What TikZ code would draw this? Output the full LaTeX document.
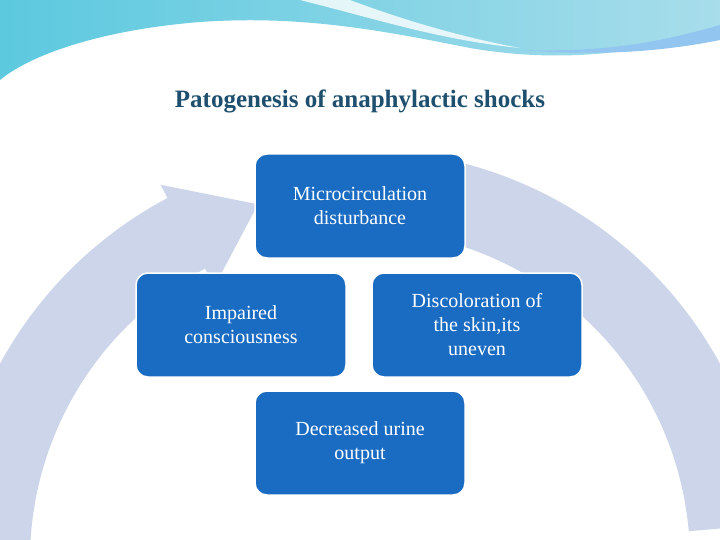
\documentclass[tikz,border=0pt]{standalone}
\usepackage{fontspec}
\setmainfont{Liberation Serif}
\usetikzlibrary{shapes.geometric,calc}
\definecolor{boxblue}{HTML}{1A6CC2}
\definecolor{ring}{HTML}{CDD5EA}
\definecolor{titlec}{HTML}{1E4F6E}
\definecolor{cyanA}{HTML}{5CC9DF}
\definecolor{cyanB}{HTML}{A8DDEB}
\tikzset{
 box/.style={draw=white,line width=1.5pt,fill=boxblue,rounded corners=12pt,minimum width=210pt,minimum height=104pt,text=white,align=center,font=\fontsize{20}{24}\selectfont,inner sep=2pt},
}
\begin{document}
\begin{tikzpicture}[x=1pt,y=-1pt]
\useasboundingbox (0,0) rectangle (720,540);
\fill[white] (0,0) rectangle (720,540);
% top wave
\shade[left color=cyanA,right color=cyanB] (0,0) -- (720,0) -- (720,30) .. controls (620,60) and (540,60) .. (470,48) .. controls (380,30) and (300,15) .. (200,22) .. controls (100,30) and (30,55) .. (0,80) -- cycle;
\fill[white,opacity=0.8] (300,0) .. controls (380,20) and (440,40) .. (520,48) .. controls (450,35) and (390,15) .. (350,0) -- cycle;
\fill[cyanA!80!blue!60] (720,25) .. controls (650,45) and (600,52) .. (520,50) .. controls (600,56) and (660,52) .. (720,40) -- cycle;
% ring
\fill[ring] (360,560) ++(-75:410) arc[start angle=-75,end angle=-5,radius=410] -- ++(-185:80) arc[start angle=-5,end angle=-75,radius=330] -- cycle;
\fill[ring] (360,560) ++(-200:410) arc[start angle=-200,end angle=-118,radius=410] -- ++(-118:15) -- ($(360,560)+(-106:370)$) -- ($(360,560)+(-118:310)$) -- ++(-118:20) arc[start angle=-118,end angle=-200,radius=330] -- cycle;
% title
\node[font=\bfseries\fontsize{25}{30}\selectfont,text=titlec] (title) at (360,101) {Patogenesis of anaphylactic shocks};
% boxes
\node[box] (micro) at (360,206) {Microcirculation\\disturbance};
\node[box] (imp) at (241,325) {Impaired\\consciousness};
\node[box] (dis) at (477,325) {Discoloration of\\the skin,its\\uneven};
\node[box] (dec) at (360,443) {Decreased urine\\output};
\end{tikzpicture}
\end{document}
